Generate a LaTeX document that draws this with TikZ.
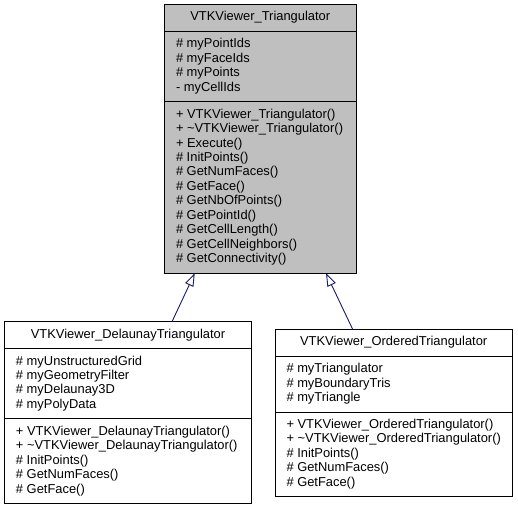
\documentclass[tikz,border=0pt]{standalone}
\usepackage{fontspec}
\setmainfont{Liberation Sans}
\usetikzlibrary{shapes.multipart,arrows.meta}
\definecolor{baseclr}{RGB}{191,191,191}
\definecolor{umlblue}{RGB}{25,25,112}

\begin{document}
\begin{tikzpicture}[x=1pt, y=-1pt,
		classbox/.style={rectangle split, rectangle split parts=3,
			rectangle split part align={center,left,left},
			draw=black, line width=1pt, outer sep=0pt, align=left,
			inner xsep=11.5pt, inner ysep=5.75pt, anchor=north west,
			font=\fontsize{12.9}{14.45}\selectfont},
		inherit/.style={-{Triangle[open, length=13pt, width=9pt]}, draw=umlblue, line width=0.9pt}]
		\useasboundingbox (0, 0) rectangle (518, 507);

		\node[classbox, fill=baseclr, minimum width=191.5pt] (Triangulator) at (164.5, 4.5) {\strut VTKViewer\_Triangulator
			\nodepart{second}\strut\# myPointIds\\ \# myFaceIds\\ \# myPoints\\ - myCellIds\strut
			\nodepart{third}\strut+ VTKViewer\_Triangulator()\\ + \textasciitilde VTKViewer\_Triangulator()\\ + Execute()\\
			\# InitPoints()\\ \# GetNumFaces()\\ \# GetFace()\\ \# GetNbOfPoints()\\ \# GetPointId()\\
			\# GetCellLength()\\ \# GetCellNeighbors()\\ \# GetConnectivity()\strut};
		\node[classbox, fill=white, minimum width=247pt] (Delaunay) at (4.5, 321.7) {\strut VTKViewer\_DelaunayTriangulator
			\nodepart{second}\strut\# myUnstructuredGrid\\ \# myGeometryFilter\\ \# myDelaunay3D\\ \# myPolyData\strut
			\nodepart{third}\strut+ VTKViewer\_DelaunayTriangulator()\\ + \textasciitilde VTKViewer\_DelaunayTriangulator()\\
			\# InitPoints()\\ \# GetNumFaces()\\ \# GetFace()\strut};
		\node[classbox, fill=white, minimum width=237.3pt] (Ordered) at (275, 329.3) {\strut VTKViewer\_OrderedTriangulator
			\nodepart{second}\strut\# myTriangulator\\ \# myBoundaryTris\\ \# myTriangle\strut
			\nodepart{third}\strut+ VTKViewer\_OrderedTriangulator()\\ + \textasciitilde VTKViewer\_OrderedTriangulator()\\
			\# InitPoints()\\ \# GetNumFaces()\\ \# GetFace()\strut};

		\draw[inherit] ([xshift=44pt]Delaunay.north) -- ([xshift=-65.5pt]Triangulator.south);
		\draw[inherit] ([xshift=-41pt]Ordered.north) -- ([xshift=65.75pt]Triangulator.south);
	\end{tikzpicture}
\end{document}
